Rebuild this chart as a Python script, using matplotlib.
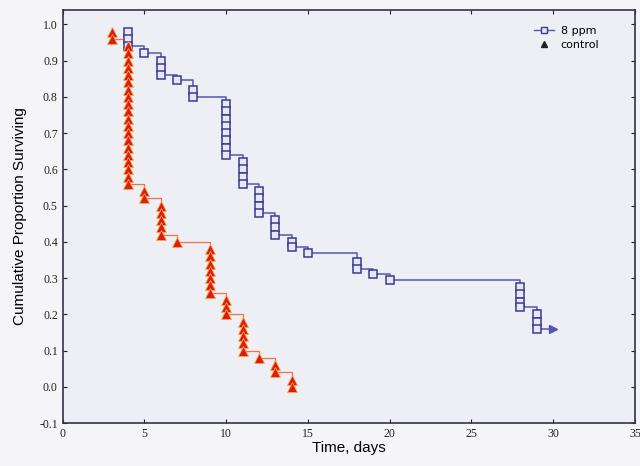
import matplotlib
matplotlib.use("Agg")
import matplotlib.pyplot as plt
from matplotlib.lines import Line2D

# 8 ppm group: time of each event and survival after it
ppm_days = [4, 4, 4, 5, 6, 6, 6, 7, 8, 8,
            10, 10, 10, 10, 10, 10, 10, 10,
            11, 11, 11, 11, 12, 12, 12, 12,
            13, 13, 13, 14, 14, 15, 18, 18, 19, 20,
            28, 28, 28, 28, 29, 29, 29]
ppm_surv = [0.98, 0.96, 0.94, 0.92, 0.90, 0.88, 0.86, 0.845, 0.82, 0.80,
            0.78, 0.76, 0.74, 0.72, 0.70, 0.68, 0.66, 0.64,
            0.62, 0.60, 0.58, 0.56, 0.54, 0.52, 0.50, 0.48,
            0.46, 0.44, 0.42, 0.40, 0.385, 0.37, 0.345, 0.325, 0.31, 0.295,
            0.275, 0.255, 0.235, 0.22, 0.20, 0.18, 0.16]
ppm_censor_day = 30
ppm_censor_surv = 0.16

# control group
ctl_days = [3, 3] + [4] * 20 + [5, 5] + [6] * 5 + [7] + [9] * 7 + [10] * 3 + [11] * 5 + [12] + [13, 13] + [14, 14]
ctl_surv = [0.98, 0.96,
            0.94, 0.92, 0.90, 0.88, 0.86, 0.84, 0.82, 0.80, 0.78, 0.76,
            0.74, 0.72, 0.70, 0.68, 0.66, 0.64, 0.62, 0.60, 0.58, 0.56,
            0.54, 0.52,
            0.50, 0.48, 0.46, 0.44, 0.42,
            0.40,
            0.38, 0.36, 0.34, 0.32, 0.30, 0.28, 0.26,
            0.24, 0.22, 0.20,
            0.18, 0.16, 0.14, 0.12, 0.10,
            0.08,
            0.06, 0.04,
            0.02, 0.00]

x_ticks = [0, 5, 10, 15, 20, 25, 30, 35]
y_ticks = [-0.1, 0.0, 0.1, 0.2, 0.3, 0.4, 0.5, 0.6, 0.7, 0.8, 0.9, 1.0]

blue = "#5656b4"
blue_edge = "#3a3a8e"
red = "#e01818"

fig = plt.figure(figsize=(6.4, 4.66), dpi=100, facecolor="#f5f5f9")
ax = fig.add_axes([0.098, 0.092, 0.894, 0.887], facecolor="#eeeef5")

# step lines
ax.plot(ppm_days + [ppm_censor_day], ppm_surv + [ppm_censor_surv],
        drawstyle="steps-post", color=blue, lw=1.1, zorder=2)
ax.plot(ctl_days, ctl_surv, drawstyle="steps-post", color="#f07050", lw=0.9, zorder=2)

# markers
ax.plot(ppm_days, ppm_surv, ls="none", marker="s", ms=5.5, mfc="#e8e8f4",
        mec=blue_edge, mew=1.1, zorder=3)
ax.plot([ppm_censor_day], [ppm_censor_surv], ls="none", marker=">", ms=5.5,
        color=blue, zorder=3)
ax.plot(ctl_days, ctl_surv, ls="none", marker="^", ms=7, mfc=red,
        mec="#f0b040", mew=0.6, zorder=3)

ax.set_xlim(0, 35)
ax.set_ylim(-0.1, 1.04)
ax.set_xticks(x_ticks)
ax.set_yticks(y_ticks)
ax.set_yticklabels([f"{v:.1f}" for v in y_ticks])
ax.tick_params(direction="in", length=3, width=0.8, labelsize=8.5, colors="#222222",
               top=True, right=True)
for lab in ax.get_xticklabels() + ax.get_yticklabels():
    lab.set_family("Liberation Serif")
for s in ax.spines.values():
    s.set_color("#333344")
    s.set_linewidth(1.2)

ax.set_xlabel("Time, days", family="Liberation Sans", fontsize=11, labelpad=1)
ax.set_ylabel("Cumulative Proportion Surviving", family="Liberation Sans",
              fontsize=11, labelpad=9)

handles = [
    Line2D([], [], color=blue, lw=1.0, marker="s", ms=5, mfc="#e8e8f4", mec=blue_edge),
    Line2D([], [], ls="none", marker="^", ms=4, color="#222222"),
]
leg = ax.legend(handles, ["8 ppm", "control"], loc="upper right", frameon=False,
                bbox_to_anchor=(0.955, 0.985), handlelength=1.8, labelspacing=0.35,
                handletextpad=0.6,
                prop={"family": "Liberation Sans Narrow", "size": 8})

fig.savefig("out.png", dpi=100, facecolor=fig.get_facecolor())
